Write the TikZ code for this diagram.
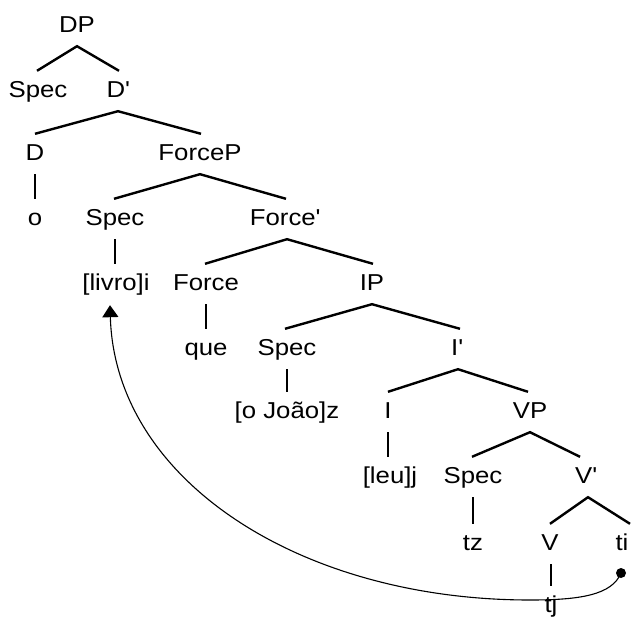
\documentclass[tikz,border=0pt]{standalone}
\usepackage{fontspec}
\setmainfont{Liberation Sans}[FakeStretch=1.12]
\usetikzlibrary{arrows.meta}
\begin{document}
\begin{tikzpicture}[x=1pt,y=-1pt,
  lab/.style={anchor=base,inner sep=0pt,text height=16pt,text depth=5pt,font=\fontsize{23}{27}\selectfont},
  br/.style={line width=2.4pt},
  mv/.style={line width=1.1pt},
  dotnode/.style={circle,fill=black,inner sep=0pt,minimum size=10pt}]
\useasboundingbox[fill=white] (0,0) rectangle (632,616);
% nodes
\node[lab] (DP) at (77,32) {DP};
\node[lab] (specA) at (38,97) {Spec};
\node[lab] (Dbar) at (118,97) {D\textquotesingle};
\node[lab] (D) at (35,160) {D};
\node[lab] (ForceP) at (200,160) {ForceP};
\node[lab] (o) at (35,225) {o};
\node[lab] (specB) at (115,225) {Spec};
\node[lab] (Forcebar) at (285,225) {Force\textquotesingle};
\node[lab] (livro) at (116,290) {[livro]i};
\node[lab] (Force) at (206,290) {Force};
\node[lab] (IP) at (372,290) {IP};
\node[lab] (que) at (206,355) {que};
\node[lab] (specC) at (287,355) {Spec};
\node[lab] (Ibar) at (457,355) {I\textquotesingle};
\node[lab] (joao) at (287,418) {[o João]z};
\node[lab] (I) at (388,418) {I};
\node[lab] (VP) at (530,418) {VP};
\node[lab] (leu) at (390,483) {[leu]j};
\node[lab] (specD) at (473,483) {Spec};
\node[lab] (Vbar) at (586,483) {V\textquotesingle};
\node[lab] (tz) at (473,550) {tz};
\node[lab] (V) at (550,550) {V};
\node[lab] (ti) at (622,550) {ti};
\node[lab] (tj) at (551,612) {tj};
\node[dotnode] (dot) at (621,573) {};
% branches
\draw[br] ([xshift=-1pt,yshift=10pt]specA.north) -- ([yshift=-9pt]DP.south) -- ([xshift=1pt,yshift=10pt]Dbar.north);
\draw[br] ([yshift=10pt]D.north) -- ([yshift=-9pt]Dbar.south) -- ([xshift=1pt,yshift=10pt]ForceP.north);
\draw[br] ([xshift=-1pt,yshift=10pt]specB.north) -- ([yshift=-9pt]ForceP.south) -- ([xshift=1pt,yshift=10pt]Forcebar.north);
\draw[br] ([xshift=-1pt,yshift=10pt]Force.north) -- ([xshift=2pt,yshift=-9pt]Forcebar.south) -- ([xshift=1pt,yshift=10pt]IP.north);
\draw[br] ([xshift=-2pt,yshift=10pt]specC.north) -- ([yshift=-9pt]IP.south) -- ([xshift=3pt,yshift=10pt]Ibar.north);
\draw[br] ([yshift=10pt]I.north) -- ([xshift=1pt,yshift=-9pt]Ibar.south) -- ([xshift=-2pt,yshift=10pt]VP.north);
\draw[br] ([xshift=-1pt,yshift=10pt]specD.north) -- ([yshift=-9pt]VP.south) -- ([xshift=-6pt,yshift=10pt]Vbar.north);
\draw[br] ([yshift=10pt]V.north) -- ([xshift=2pt,yshift=-9pt]Vbar.south) -- ([xshift=8pt,yshift=10pt]ti.north);
% unary branches
\draw[br] ([yshift=-9pt]D.south) -- ([yshift=10pt]D.south |- o.north);
\draw[br] ([yshift=-9pt]specB.south) -- ([yshift=10pt]specB.south |- livro.north);
\draw[br] ([yshift=-9pt]Force.south) -- ([yshift=10pt]Force.south |- que.north);
\draw[br] ([yshift=-9pt]specC.south) -- ([yshift=10pt]specC.south |- joao.north);
\draw[br] ([yshift=-9pt]I.south) -- ([yshift=10pt]I.south |- leu.north);
\draw[br] ([yshift=-9pt]specD.south) -- ([yshift=10pt]specD.south |- tz.north);
\draw[br] ([xshift=1pt,yshift=-9pt]V.south) -- ([xshift=1pt,yshift=10pt]V.south |- tj.north);
% movement arrow
\draw[mv,-{Triangle[width=16pt,length=12pt]}] (dot.center) .. controls (612,595) and (580,600) .. (530,600)
  .. controls (300,600) and (115,480) .. ([xshift=-6pt,yshift=-10pt]livro.south);
\end{tikzpicture}
\end{document}
